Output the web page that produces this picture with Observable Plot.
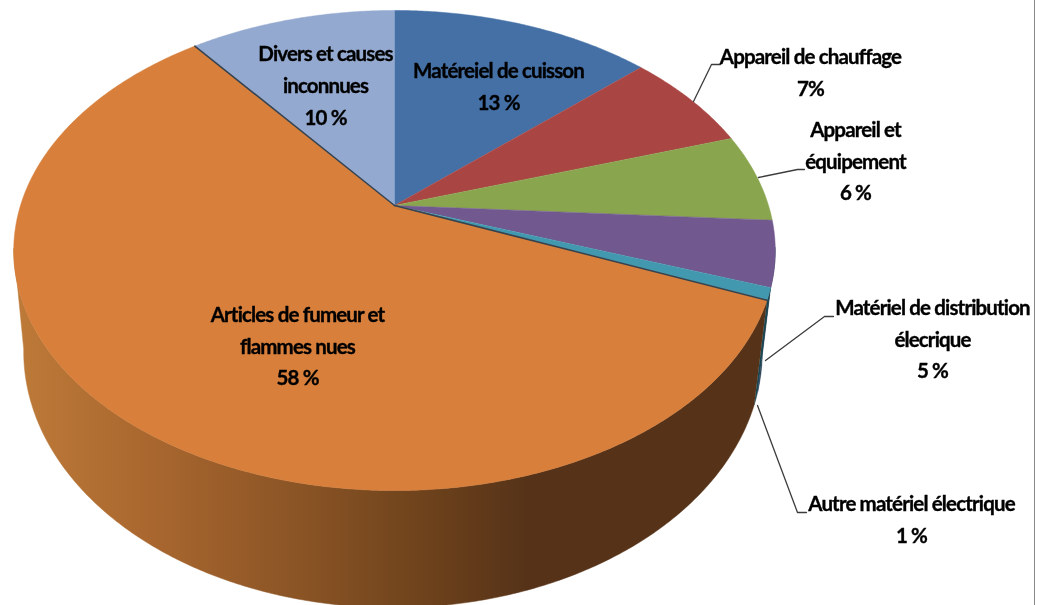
<!DOCTYPE html>
<html><head><meta charset="utf-8">
<script src="https://cdn.jsdelivr.net/npm/d3@7"></script>
<script src="https://cdn.jsdelivr.net/npm/@observablehq/plot@0.6"></script>
<style>html,body{margin:0;padding:0;background:#fff}svg{display:block}svg text{letter-spacing:-0.85px;filter:blur(0.35px)}</style>
</head><body><div id="chart"></div>
<script>
const names = ["Matéreiel de cuisson","Appareil de chauffage","Appareil et équipement","Matériel de distribution élecrique","Autre matériel électrique","Articles de fumeur et flammes nues","Divers et causes inconnues"];
const values = [13.3,6.75,5.95,4.4,0.8,58.3,10.5];
const colors = ["#4470a6","#a94543","#89a54e","#71588f","#4198af","#d77f3b","#93a9cf"];
const wallColors = ["#2e4b6f","#6f2e2c","#5a6d33","#243b52","#1d4653","url(#orangeWall)","#60708a"];
const labelTexts = ["Matéreiel de cuisson\n13 %","Appareil de chauffage\n7%","Appareil et\néquipement\n6 %","Matériel de distribution\nélecrique\n5 %","Autre matériel électrique\n1 %","Articles de fumeur et\nflammes nues\n58 %","Divers et causes\ninconnues\n10 %"];
// layout
const labelX = [498,810,855,932,911,297,325];
const labelY = [83,69.5,158,336,516,343,82.5];
const leaders = [
  [[693,101],[711,64],[720,64]],
  [[758,177],[797,169],[804,169]],
  [[765,360],[824,316],[833,316]],
  [[757,405],[797,512],[806,512]]
];
const gradientStops = [[15,"#bd7a38"],[150,"#a9672f"],[300,"#8a5425"],[420,"#6f431c"],[530,"#553218"],[780,"#553218"]];
const apex=[394,205], k=0.1875, A=231.6, B=374;
const ell={x:393.5,y:249,rx:381.5,ry:239}, low={x:392,y:350,rx:370,ry:255};
function rim(t){const X=Math.sin(t),Y=Math.cos(t),d=1+k*Y;return [apex[0]+B*X/d,apex[1]-A*Y/d];}
function below(p){const u=(p[0]-ell.x)/ell.rx,v=(p[1]-ell.y)/ell.ry;return [low.x+low.rx*u,low.y+low.ry*v,v];}
const total=d3.sum(values);
const cum=d3.cumsum(values);
const ang=p=>p/total*2*Math.PI;
const starts=values.map((v,i)=>ang(i?cum[i-1]:0)), ends=values.map((v,i)=>ang(cum[i]));
const faces=[],walls=[],edges=[];
values.forEach((v,i)=>{
  const n=Math.ceil((ends[i]-starts[i])/(Math.PI/360));
  faces.push({i,x:apex[0],y:apex[1]});
  const upper=[],lower=[];
  for(let j=0;j<=n;j++){
    const p=rim(starts[i]+(ends[i]-starts[i])*j/n);
    faces.push({i,x:p[0],y:p[1]});
    const q=below(p);
    if(q[2]>=-0.01){upper.push(p);lower.unshift(q);}
  }
  if(upper.length>1) [...upper,...lower].forEach(q=>walls.push({i,x:q[0],y:q[1],color:wallColors[i]}));
});
[4,5].forEach(i=>{const p=rim(ends[i]);edges.push({i,x:apex[0],y:apex[1]},{i,x:p[0],y:p[1]});});
const leaderPts=leaders.flatMap((l,i)=>l.map(p=>({i,x:p[0],y:p[1]})));
const labels=labelTexts.map((text,i)=>({text,x:labelX[i],y:labelY[i]}));
const wallGradient=()=>{
  const defs=d3.create("svg:defs");
  const g=defs.append("linearGradient").attr("id","orangeWall").attr("gradientUnits","userSpaceOnUse")
    .attr("x1",0).attr("x2",1037).attr("y1",0).attr("y2",0);
  gradientStops.forEach(([x,c])=>g.append("stop").attr("offset",x/1037).attr("stop-color",c));
  return defs.node();
};
const plot=Plot.plot({
  width:1037,height:605,margin:0,
  x:{domain:[0,1037],range:[0,1037],axis:null},
  y:{domain:[0,605],range:[0,605],axis:null},
  style:{background:"#fff"},
  marks:[
    wallGradient,
    ...wallColors.map((c,i)=>Plot.line(walls.filter(d=>d.i===i),{x:"x",y:"y",fill:c,stroke:c,strokeWidth:0.5})),
    Plot.line(faces,{x:"x",y:"y",z:"i",fill:d=>colors[d.i],stroke:d=>colors[d.i],strokeWidth:0.5}),
    Plot.line(edges,{x:"x",y:"y",z:"i",stroke:"#35424f",strokeWidth:1.5}),
    Plot.line(leaderPts,{x:"x",y:"y",z:"i",stroke:"#3c3c3c",strokeWidth:1.3}),
    Plot.ruleX([1034],{stroke:"#8a8a8a",strokeWidth:1}),
    Plot.text(labels,{x:"x",y:"y",text:"text",fontSize:20.5,lineHeight:1.55,lineAnchor:"middle",textAnchor:"middle",fill:"#000",stroke:"#000",strokeWidth:0.35,fontWeight:"bold",fontFamily:"Lato"})
  ]
});
document.getElementById("chart").append(plot);
</script></body></html>
